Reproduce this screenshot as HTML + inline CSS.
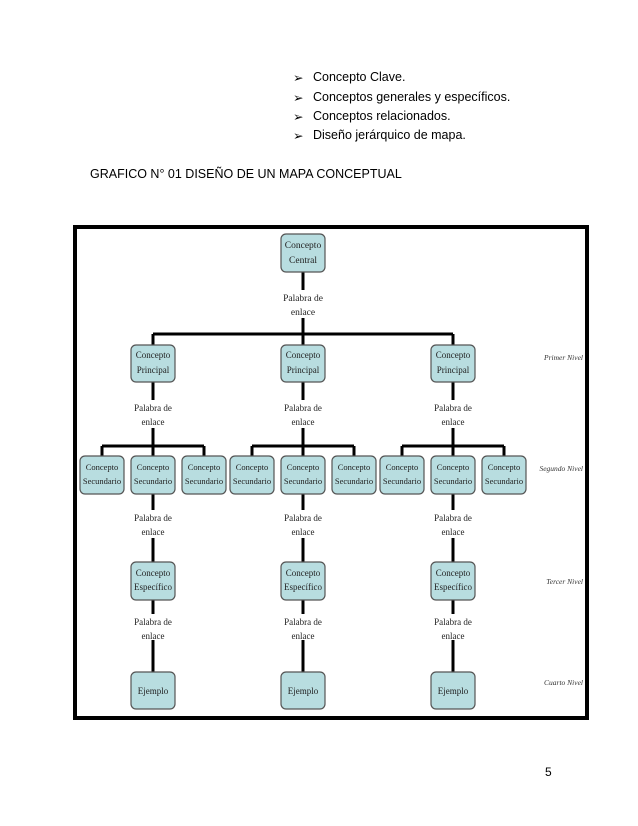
<!DOCTYPE html>
<html><head><meta charset="utf-8"><style>
body{margin:0;background:#fff;width:638px;height:826px;overflow:hidden;position:relative;font-family:"Liberation Sans",sans-serif}
.b{position:absolute;left:293px;font-size:12.5px;color:#000}
.b span{position:absolute;left:20px;white-space:nowrap}
</style></head><body>
<div class="b" style="top:70px">➢<span>Concepto Clave.</span></div>
<div class="b" style="top:90px">➢<span>Conceptos generales y específicos.</span></div>
<div class="b" style="top:109px">➢<span>Conceptos relacionados.</span></div>
<div class="b" style="top:128px">➢<span>Diseño jerárquico de mapa.</span></div>
<div style="position:absolute;left:90px;top:167px;font-size:12.5px">GRAFICO N° 01 DISEÑO DE UN MAPA CONCEPTUAL</div>
<div style="position:absolute;left:545px;top:765px;font-size:12px">5</div>
<svg width="638" height="826" style="position:absolute;left:0;top:0" font-family="Liberation Serif, serif" font-size="9.5">
<rect x="75" y="227" width="512" height="491" fill="none" stroke="#000" stroke-width="4"/>
<g stroke="#000" stroke-width="3" fill="none">
<line x1="303" y1="270" x2="303" y2="290"/><line x1="303" y1="318" x2="303" y2="345"/>
<line x1="153" y1="334" x2="453" y2="334"/>
<line x1="153" y1="334" x2="153" y2="345"/><line x1="453" y1="334" x2="453" y2="345"/>
</g>
<g id="col" stroke="#000" stroke-width="3" fill="none">
</g>
<g font-size="9.5" text-anchor="middle" fill="#222">
<rect x="281" y="234" width="44" height="38" rx="5" fill="#b8dde0" stroke="#555" stroke-width="1.2"/>
<text x="303" y="248">Concepto</text><text x="303" y="263">Central</text>
<text x="303" y="301">Palabra de</text><text x="303" y="315">enlace</text>
</g>
<g stroke="#000" stroke-width="3" fill="none">
<path d="M153 382V400M153 428V446M102 446H204M102 446V456M204 446V456M153 446V456M153 494V510M153 538V562M153 600V614M153 640V672"/>
<path d="M303 382V400M303 428V446M252 446H354M252 446V456M354 446V456M303 446V456M303 494V510M303 538V562M303 600V614M303 640V672"/>
<path d="M453 382V400M453 428V446M402 446H504M402 446V456M504 446V456M453 446V456M453 494V510M453 538V562M453 600V614M453 640V672"/>
</g>
<g fill="#b8dde0" stroke="#555" stroke-width="1.2">
<rect x="131" y="345" width="44" height="37" rx="5"/><rect x="281" y="345" width="44" height="37" rx="5"/><rect x="431" y="345" width="44" height="37" rx="5"/>
<rect x="80" y="456" width="44" height="38" rx="5"/><rect x="131" y="456" width="44" height="38" rx="5"/><rect x="182" y="456" width="44" height="38" rx="5"/>
<rect x="230" y="456" width="44" height="38" rx="5"/><rect x="281" y="456" width="44" height="38" rx="5"/><rect x="332" y="456" width="44" height="38" rx="5"/>
<rect x="380" y="456" width="44" height="38" rx="5"/><rect x="431" y="456" width="44" height="38" rx="5"/><rect x="482" y="456" width="44" height="38" rx="5"/>
<rect x="131" y="562" width="44" height="38" rx="5"/><rect x="281" y="562" width="44" height="38" rx="5"/><rect x="431" y="562" width="44" height="38" rx="5"/>
<rect x="131" y="672" width="44" height="37" rx="5"/><rect x="281" y="672" width="44" height="37" rx="5"/><rect x="431" y="672" width="44" height="37" rx="5"/>
</g>
<g text-anchor="middle" fill="#222" font-size="9">
<text x="153" y="358">Concepto</text><text x="153" y="373">Principal</text>
<text x="303" y="358">Concepto</text><text x="303" y="373">Principal</text>
<text x="453" y="358">Concepto</text><text x="453" y="373">Principal</text>
<text x="153" y="411">Palabra de</text><text x="153" y="425">enlace</text>
<text x="303" y="411">Palabra de</text><text x="303" y="425">enlace</text>
<text x="453" y="411">Palabra de</text><text x="453" y="425">enlace</text>
<g font-size="8.5">
<text x="102" y="470">Concepto</text><text x="102" y="484">Secundario</text>
<text x="153" y="470">Concepto</text><text x="153" y="484">Secundario</text>
<text x="204" y="470">Concepto</text><text x="204" y="484">Secundario</text>
<text x="252" y="470">Concepto</text><text x="252" y="484">Secundario</text>
<text x="303" y="470">Concepto</text><text x="303" y="484">Secundario</text>
<text x="354" y="470">Concepto</text><text x="354" y="484">Secundario</text>
<text x="402" y="470">Concepto</text><text x="402" y="484">Secundario</text>
<text x="453" y="470">Concepto</text><text x="453" y="484">Secundario</text>
<text x="504" y="470">Concepto</text><text x="504" y="484">Secundario</text>
</g>
<text x="153" y="521">Palabra de</text><text x="153" y="535">enlace</text>
<text x="303" y="521">Palabra de</text><text x="303" y="535">enlace</text>
<text x="453" y="521">Palabra de</text><text x="453" y="535">enlace</text>
<text x="153" y="576">Concepto</text><text x="153" y="590">Específico</text>
<text x="303" y="576">Concepto</text><text x="303" y="590">Específico</text>
<text x="453" y="576">Concepto</text><text x="453" y="590">Específico</text>
<text x="153" y="625">Palabra de</text><text x="153" y="639">enlace</text>
<text x="303" y="625">Palabra de</text><text x="303" y="639">enlace</text>
<text x="453" y="625">Palabra de</text><text x="453" y="639">enlace</text>
<text x="153" y="694">Ejemplo</text><text x="303" y="694">Ejemplo</text><text x="453" y="694">Ejemplo</text>
</g>
<g font-style="italic" font-size="7.5" fill="#333" text-anchor="end">
<text x="583" y="360">Primer Nivel</text>
<text x="583" y="471">Segundo Nivel</text>
<text x="583" y="584">Tercer Nivel</text>
<text x="583" y="685">Cuarto Nivel</text>
</g>
</svg>
</body></html>
